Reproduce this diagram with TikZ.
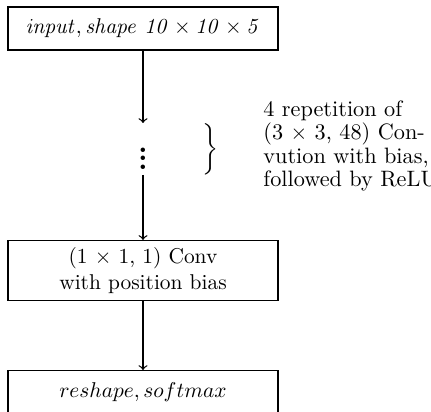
\documentclass[tikz,border=0pt]{standalone}
\usepackage{amsmath}
\usepackage{tikz}
\usetikzlibrary{positioning}

\tikzset{
    layer/.style={draw, semithick, minimum width=126pt, minimum height=20pt, align=center, inner sep=2pt},
    flow/.style={->, semithick},
    note/.style={anchor=west, align=left, inner sep=0pt, font=\fontsize{10.4}{11}\selectfont}
}

\begin{document}
\begin{tikzpicture}[x=0.467pt, y=-0.467pt]

\useasboundingbox (0,0) rectangle (431,412);

% Layers
\node[layer] (input) at (143,28.5) {$\mathit{input}, \mathit{shape}~\mathit{10}\times\mathit{10}\times\mathit{5}$};
\node[layer, minimum height=28pt] (conv) at (143,270.5) {(1 $\times$ 1, 1) Conv\\with position bias};
\node[layer] (out) at (143,392) {$reshape, softmax$};

% Repeated block
\coordinate (gapTop) at (143,123);
\coordinate (gapBot) at (143,175);
\node[font=\Large\bfseries] (dots) at (143,152) {\vdots};
\node (brace) at (211,149) {$\bigg\}$};
\node[note] (reptext) at (263,146) {4 repetition of\\(3 $\times$ 3, 48) Con-\\vution with bias,\\followed by ReLU};

% Connections
\draw[flow] (input) -- (gapTop);
\draw[flow] (gapBot) -- (conv);
\draw[flow] (conv) -- (out);

\end{tikzpicture}
\end{document}
